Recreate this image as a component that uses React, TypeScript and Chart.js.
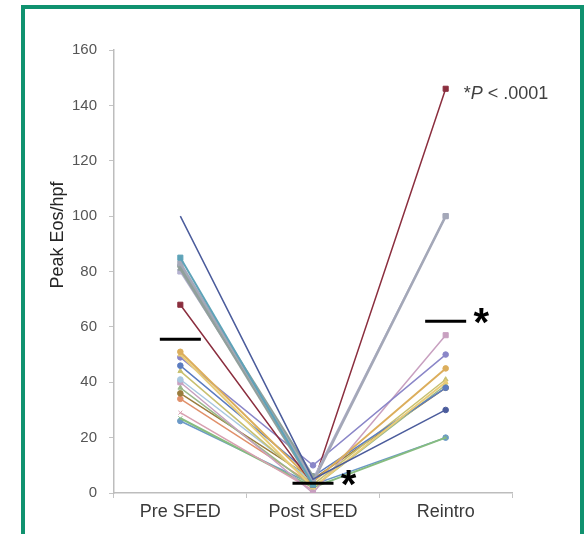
import { useEffect, useRef } from "react";
import { Chart, registerables } from "chart.js";

Chart.register(...registerables);

// ---- data ----
const categories = ["Pre SFED", "Post SFED", "Reintro"];
const yMin = 0;
const yMax = 160;
const yStep = 20;

const preSFED = [100, 85, 83, 82, 81, 80, 68, 51, 50, 49, 46, 44, 41, 40, 38, 36, 34, 29, 27, 26];
const postSFED = [5, 3, 4, 6, 3, 5, 3, 4, 2, 10, 6, 3, 4, 0, 2, 5, 3, 1, 2, 3];
const reintro: (number | null)[] = [30, null, 100, null, null, 100, 146, 45, 40, 50, 38, 41, null, 57, 39, 38, null, null, 20, 20];

const seriesColors = [
  "#4b5c9c", "#5ea3b8", "#a4a8b8", "#8fa09a", "#92a09c", "#b4b2d0",
  "#8b2e3e", "#dcae5c", "#e8cc78", "#8a86c8", "#5b7cc0", "#c8c070",
  "#a8c8e0", "#c8a0c0", "#9ab88a", "#9a7c3c", "#e0906a", "#d8a0b0",
  "#86bc80", "#6a98c8",
];
const seriesMarkers = [
  "circle", "rect", "rect", "circle", "triangle", "rect",
  "rect", "circle", "triangle", "circle", "circle", "triangle",
  "circle", "rect", "triangle", "circle", "circle", "crossRot",
  "crossRot", "circle",
];
const seriesWidths = [1.5, 2, 2.5, 2.5, 2.5, 1.8, 1.5, 2, 2, 1.5, 1.5, 1.5, 1.5, 1.5, 1.5, 1.5, 1.5, 1.5, 2, 1.5];

const groupMeans = [55.5, 3.5, 62];
const meanStars = [false, true, true];
const pValueNote = ["*", "P", " < .0001"];
const yTitle = "Peak Eos/hpf";

const FONT = "'Liberation Sans', Arial, sans-serif";

const overlayPlugin = {
  id: "overlay",
  afterDatasetsDraw(chart: any) {
    const ctx = chart.ctx as CanvasRenderingContext2D;
    const xs = chart.scales.x;
    const ys = chart.scales.y;
    ctx.save();
    groupMeans.forEach((m, i) => {
      const cx = xs.getPixelForValue(i);
      const y = ys.getPixelForValue(m);
      const half = 20.5;
      ctx.strokeStyle = "#000";
      ctx.lineWidth = 3;
      ctx.beginPath();
      ctx.moveTo(cx - half, y);
      ctx.lineTo(cx + half, y);
      ctx.stroke();
      if (meanStars[i]) {
        ctx.fillStyle = "#000";
        ctx.font = `bold 40px ${FONT}`;
        ctx.textAlign = "center";
        ctx.textBaseline = "alphabetic";
        ctx.fillText("*", cx + half + 15, y - 7 + 22);
      }
    });
    const maxR = Math.max(...(reintro.filter((v) => v !== null) as number[]));
    let x = xs.getPixelForValue(2) + 18;
    const y = ys.getPixelForValue(maxR) + 10;
    ctx.fillStyle = "#404040";
    ctx.textAlign = "left";
    ctx.textBaseline = "alphabetic";
    pValueNote.forEach((part, k) => {
      ctx.font = (k === 1 ? "italic " : "") + `18px ${FONT}`;
      ctx.fillText(part, x, y);
      x += ctx.measureText(part).width;
    });
    ctx.save();
    ctx.translate(58, 235);
    ctx.rotate(-Math.PI / 2);
    ctx.font = `18px ${FONT}`;
    ctx.fillStyle = "#262626";
    ctx.textAlign = "center";
    ctx.textBaseline = "middle";
    ctx.fillText(yTitle, 0, 0);
    ctx.restore();
    ctx.restore();
  },
};

export default function App() {
  const ref = useRef<HTMLCanvasElement | null>(null);
  useEffect(() => {
    if (!ref.current) return;
    const datasets = preSFED.map((p, i) => {
      const r = seriesMarkers[i] === "rect" ? 3.6 : 2.8;
      return {
        label: "P" + (i + 1),
        data: [p, postSFED[i], reintro[i]],
        borderColor: seriesColors[i],
        backgroundColor: seriesColors[i],
        borderWidth: seriesWidths[i],
        pointStyle: seriesMarkers[i] as any,
        pointRadius: i === 0 ? [0, 0, r] : r,
        pointBorderWidth: 1,
        tension: 0,
        spanGaps: false,
      };
    });
    const chart = new Chart(ref.current, {
      type: "line",
      data: { labels: categories, datasets },
      options: {
        animation: false,
        responsive: false,
        devicePixelRatio: 1,
        layout: { padding: { left: 0, top: 50, right: 73, bottom: 0 } },
        plugins: { legend: { display: false }, tooltip: { enabled: false } },
        scales: {
          x: {
            type: "category",
            offset: true,
            grid: { offset: true, drawOnChartArea: false, drawTicks: true, tickLength: 5, color: "#c4c4c4" },
            border: { color: "#bdbdbd", width: 1.5 },
            ticks: { color: "#3a3a3a", font: { family: FONT, size: 18 }, padding: 3, maxRotation: 0 },
            afterFit: (s: any) => { s.height = 41; },
          },
          y: {
            min: yMin,
            max: yMax,
            ticks: { stepSize: yStep, color: "#555555", font: { family: FONT, size: 15 }, padding: 12 },
            grid: { drawOnChartArea: false, drawTicks: true, tickLength: 5, color: "#c4c4c4" },
            border: { color: "#bdbdbd", width: 1.5 },
            afterFit: (s: any) => { s.width = 114; },
          },
        },
      },
      plugins: [overlayPlugin],
    });
    return () => chart.destroy();
  }, []);

  return (
    <div style={{ position: "fixed", left: 0, top: 0, width: 585, height: 534, overflow: "hidden", background: "#fff" }}>
      <div
        style={{
          position: "absolute",
          left: 21,
          top: 5,
          width: 555,
          height: 600,
          border: "4px solid #10926f",
        }}
      />
      <canvas ref={ref} width={585} height={534} style={{ position: "absolute", left: 0, top: 0 }} />
    </div>
  );
}
